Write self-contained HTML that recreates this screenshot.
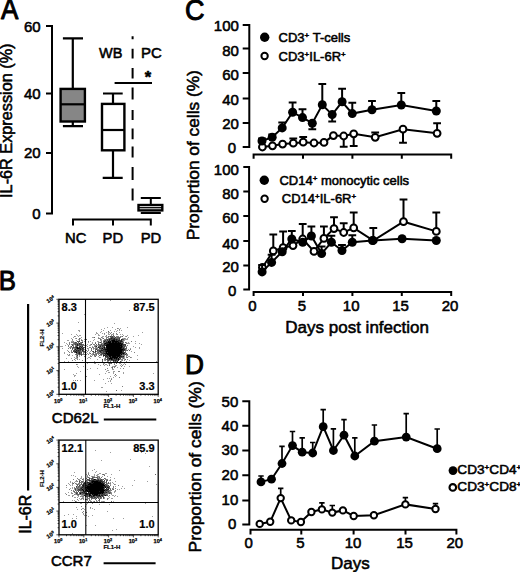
<!DOCTYPE html>
<html><head><meta charset="utf-8"><style>
html,body{margin:0;padding:0;background:#fff;width:520px;height:572px;overflow:hidden}
svg{display:block}
text{font-family:"Liberation Sans",sans-serif;fill:#000;stroke:#000;stroke-width:0.55px;stroke-linejoin:round}
path{stroke:#000;fill:none}
</style></head><body>
<svg width="520" height="572" viewBox="0 0 520 572"><defs><filter id="bl" x="-5%" y="-5%" width="110%" height="110%"><feGaussianBlur stdDeviation="0.35"/></filter></defs>
<text transform="translate(0.9,19.3) scale(1,1.11)" font-size="26" style="stroke-width:0.9px">A</text>
<path d="M46,26H52V213.5H46M46,93.5H52M46,153H52" stroke-width="2"/>
<text x="40.6" y="32.2" font-size="15" text-anchor="end">60</text>
<text x="40.6" y="99.0" font-size="15" text-anchor="end">40</text>
<text x="40.6" y="158.4" font-size="15" text-anchor="end">20</text>
<text x="40.6" y="219.1" font-size="15" text-anchor="end">0</text>
<text transform="translate(12,197.9) rotate(-90)" font-size="16.25">IL-6R Expression (%)</text>
<path d="M62.9,38.4H83M72.8,38.4V88.9M72.8,121.5V126.2M62.9,126.2H83" stroke-width="2.2"/>
<rect x="60.6" y="88.9" width="24.3" height="32.6" fill="#868686" stroke="#000" stroke-width="2.4"/>
<path d="M60.6,104.3H84.9" stroke-width="2.2"/>
<path d="M103,93.5H122.7M113,93.5V103.9M113,150.3V177.8M102.7,177.8H122.7" stroke-width="2.2"/>
<rect x="102" y="103.9" width="22.4" height="46.4" fill="#fff" stroke="#000" stroke-width="2.4"/>
<path d="M102,130H124.4" stroke-width="2.2"/>
<path d="M140.8,197.9H160.8M150.8,197.9V205M140.8,213H160.8" stroke-width="2.0"/>
<rect x="138.5" y="205" width="23.8" height="5.4" fill="#fff" stroke="#000" stroke-width="2.4"/>
<path d="M138.5,207.7H162.3" stroke-width="1.3"/>
<path d="M73,225.5V219.5H150.8V225.5M113,219.5V225.5" stroke-width="2"/>
<text x="75.8" y="243.3" font-size="14.8" text-anchor="middle">NC</text>
<text x="112.8" y="243.3" font-size="14.8" text-anchor="middle">PD</text>
<text x="151" y="243.3" font-size="14.8" text-anchor="middle">PD</text>
<path d="M132.6,36.3V39.2M132.6,48.8V58.5M132.6,68V78.6M132.6,87.5V99.5M132.6,110V120M132.6,128.5V139.3M132.6,146.5V157.5M132.6,167V180M132.6,188.5V200.5" stroke-width="2"/>
<text x="99" y="57.6" font-size="14.5">WB</text>
<text x="141.0" y="57.6" font-size="15">PC</text>
<path d="M114.6,82.9H152" stroke-width="2"/>
<text x="144.7" y="83.4" font-size="16.5" font-weight="bold">*</text>
<text transform="translate(-1.2,289.6) scale(1.01,1.07)" font-size="25.5" style="stroke-width:0.9px">B</text>
<path d="M28.1,304V490.5" stroke-width="2.2"/>
<text transform="translate(30.7,533.8) rotate(-90)" font-size="16">IL-6R</text>
<rect x="59" y="299.3" width="99.19999999999999" height="95.0" fill="none" stroke="#000" stroke-width="1.3"/>
<path d="M110,300h1v1h-1zM84,314h1v1h-1zM78,322h1v1h-1zM114,323h1v1h-1zM107,327h1v1h-1zM112,327h1v1h-1zM127,327h1v1h-1zM104,328h1v1h-1zM118,328h1v1h-1zM120,328h1v1h-1zM101,329h1v1h-1zM115,329h1v1h-1zM78,330h1v1h-1zM79,330h1v1h-1zM103,330h1v1h-1zM110,330h1v1h-1zM117,330h1v1h-1zM119,330h1v1h-1zM121,330h1v1h-1zM79,331h1v1h-1zM101,331h1v1h-1zM114,331h1v1h-1zM116,331h1v1h-1zM96,332h1v1h-1zM100,332h1v1h-1zM106,332h1v1h-1zM108,332h1v1h-1zM109,332h1v1h-1zM119,332h1v1h-1zM142,332h1v1h-1zM62,333h1v1h-1zM96,333h1v1h-1zM97,333h1v1h-1zM102,333h1v1h-1zM108,333h1v1h-1zM71,334h1v1h-1zM76,334h1v1h-1zM95,334h1v1h-1zM98,334h1v1h-1zM104,334h1v1h-1zM108,334h1v1h-1zM109,334h1v1h-1zM111,334h1v1h-1zM112,334h1v1h-1zM113,334h1v1h-1zM116,334h1v1h-1zM120,334h1v1h-1zM122,334h1v1h-1zM77,335h1v1h-1zM79,335h1v1h-1zM80,335h1v1h-1zM98,335h1v1h-1zM99,335h1v1h-1zM123,335h1v1h-1zM127,335h1v1h-1zM138,335h1v1h-1zM75,336h1v1h-1zM78,336h1v1h-1zM102,336h1v1h-1zM103,336h1v1h-1zM105,336h1v1h-1zM106,336h1v1h-1zM109,336h1v1h-1zM121,336h1v1h-1zM125,336h1v1h-1zM133,336h1v1h-1zM73,337h1v1h-1zM81,337h1v1h-1zM92,337h1v1h-1zM93,337h1v1h-1zM98,337h1v1h-1zM102,337h1v1h-1zM108,337h1v1h-1zM128,337h1v1h-1zM71,338h1v1h-1zM75,338h1v1h-1zM80,338h1v1h-1zM100,338h1v1h-1zM102,338h1v1h-1zM122,338h1v1h-1zM123,338h1v1h-1zM125,338h1v1h-1zM127,338h1v1h-1zM78,339h1v1h-1zM81,339h1v1h-1zM84,339h1v1h-1zM94,339h1v1h-1zM101,339h1v1h-1zM124,339h1v1h-1zM125,339h1v1h-1zM126,339h1v1h-1zM127,339h1v1h-1zM67,340h1v1h-1zM68,340h1v1h-1zM72,340h1v1h-1zM76,340h1v1h-1zM93,340h1v1h-1zM100,340h1v1h-1zM101,340h1v1h-1zM124,340h1v1h-1zM71,341h1v1h-1zM72,341h1v1h-1zM82,341h1v1h-1zM84,341h1v1h-1zM90,341h1v1h-1zM97,341h1v1h-1zM98,341h1v1h-1zM123,341h1v1h-1zM135,341h1v1h-1zM64,342h1v1h-1zM88,342h1v1h-1zM92,342h1v1h-1zM126,342h1v1h-1zM128,342h1v1h-1zM66,343h1v1h-1zM92,343h1v1h-1zM123,343h1v1h-1zM127,343h1v1h-1zM128,343h1v1h-1zM129,343h1v1h-1zM135,343h1v1h-1zM139,343h1v1h-1zM67,344h1v1h-1zM85,344h1v1h-1zM87,344h1v1h-1zM90,344h1v1h-1zM141,344h1v1h-1zM65,345h1v1h-1zM85,345h1v1h-1zM86,345h1v1h-1zM89,345h1v1h-1zM90,345h1v1h-1zM94,345h1v1h-1zM96,345h1v1h-1zM97,345h1v1h-1zM98,345h1v1h-1zM60,346h1v1h-1zM61,346h1v1h-1zM62,346h1v1h-1zM70,346h1v1h-1zM92,346h1v1h-1zM126,346h1v1h-1zM133,346h1v1h-1zM69,347h1v1h-1zM71,347h1v1h-1zM96,347h1v1h-1zM97,347h1v1h-1zM135,347h1v1h-1zM139,347h1v1h-1zM62,348h1v1h-1zM73,348h1v1h-1zM88,348h1v1h-1zM94,348h1v1h-1zM130,348h1v1h-1zM139,348h1v1h-1zM84,349h1v1h-1zM88,349h1v1h-1zM93,349h1v1h-1zM126,349h1v1h-1zM128,349h1v1h-1zM67,350h1v1h-1zM81,350h1v1h-1zM90,351h1v1h-1zM131,351h1v1h-1zM64,352h1v1h-1zM86,352h1v1h-1zM89,352h1v1h-1zM99,352h1v1h-1zM64,353h1v1h-1zM85,353h1v1h-1zM87,353h1v1h-1zM89,353h1v1h-1zM92,353h1v1h-1zM100,353h1v1h-1zM125,353h1v1h-1zM67,354h1v1h-1zM91,354h1v1h-1zM92,354h1v1h-1zM102,354h1v1h-1zM69,355h1v1h-1zM72,355h1v1h-1zM76,355h1v1h-1zM79,355h1v1h-1zM90,355h1v1h-1zM92,355h1v1h-1zM95,355h1v1h-1zM100,355h1v1h-1zM137,355h1v1h-1zM79,356h1v1h-1zM94,356h1v1h-1zM98,356h1v1h-1zM124,356h1v1h-1zM126,356h1v1h-1zM128,356h1v1h-1zM129,356h1v1h-1zM74,357h1v1h-1zM76,357h1v1h-1zM85,357h1v1h-1zM88,357h1v1h-1zM89,357h1v1h-1zM100,357h1v1h-1zM124,357h1v1h-1zM131,357h1v1h-1zM66,358h1v1h-1zM71,358h1v1h-1zM75,358h1v1h-1zM76,358h1v1h-1zM77,358h1v1h-1zM87,358h1v1h-1zM90,358h1v1h-1zM104,358h1v1h-1zM122,358h1v1h-1zM124,358h1v1h-1zM79,359h1v1h-1zM97,359h1v1h-1zM120,359h1v1h-1zM124,359h1v1h-1zM137,359h1v1h-1zM75,360h1v1h-1zM104,360h1v1h-1zM121,360h1v1h-1zM129,360h1v1h-1zM64,361h1v1h-1zM68,361h1v1h-1zM94,361h1v1h-1zM108,361h1v1h-1zM121,361h1v1h-1zM156,361h1v1h-1zM98,362h1v1h-1zM102,362h1v1h-1zM106,362h1v1h-1zM120,362h1v1h-1zM127,362h1v1h-1zM87,363h1v1h-1zM94,363h1v1h-1zM95,363h1v1h-1zM103,363h1v1h-1zM104,363h1v1h-1zM108,363h1v1h-1zM114,363h1v1h-1zM119,363h1v1h-1zM120,363h1v1h-1zM124,363h1v1h-1zM77,364h1v1h-1zM85,364h1v1h-1zM98,364h1v1h-1zM105,364h1v1h-1zM106,364h1v1h-1zM121,364h1v1h-1zM123,364h1v1h-1zM100,365h1v1h-1zM104,365h1v1h-1zM107,365h1v1h-1zM115,365h1v1h-1zM116,365h1v1h-1zM120,365h1v1h-1zM77,366h1v1h-1zM83,366h1v1h-1zM112,366h1v1h-1zM113,366h1v1h-1zM124,366h1v1h-1zM129,366h1v1h-1zM78,367h1v1h-1zM111,367h1v1h-1zM117,367h1v1h-1zM90,368h1v1h-1zM97,368h1v1h-1zM120,368h1v1h-1zM64,369h1v1h-1zM87,369h1v1h-1zM112,369h1v1h-1zM113,369h1v1h-1zM107,370h1v1h-1zM108,370h1v1h-1zM80,371h1v1h-1zM106,371h1v1h-1zM113,371h1v1h-1zM114,371h1v1h-1zM108,372h1v1h-1zM109,372h1v1h-1zM113,372h1v1h-1zM123,372h1v1h-1zM76,373h1v1h-1zM105,373h1v1h-1zM113,373h1v1h-1zM123,373h1v1h-1zM153,373h1v1h-1zM73,374h1v1h-1zM99,374h1v1h-1zM74,375h1v1h-1zM75,375h1v1h-1zM114,375h1v1h-1zM116,375h1v1h-1zM74,376h1v1h-1zM110,376h1v1h-1zM115,376h1v1h-1zM113,377h1v1h-1zM107,378h1v1h-1zM109,378h1v1h-1zM111,378h1v1h-1zM103,379h1v1h-1zM73,380h1v1h-1zM80,380h1v1h-1zM94,380h1v1h-1zM110,380h1v1h-1zM108,381h1v1h-1zM110,381h1v1h-1zM85,382h1v1h-1zM105,383h1v1h-1zM111,383h1v1h-1zM101,387h1v1h-1zM102,387h1v1h-1zM121,390h1v1h-1zM106,391h1v1h-1z" style="fill:#000;fill-opacity:0.38;stroke:none" filter="url(#bl)"/>
<path d="M129,310h1v1h-1zM117,328h1v1h-1zM119,329h1v1h-1zM111,332h1v1h-1zM104,333h1v1h-1zM110,333h1v1h-1zM113,333h1v1h-1zM116,333h1v1h-1zM117,334h1v1h-1zM106,335h1v1h-1zM111,335h1v1h-1zM74,336h1v1h-1zM113,336h1v1h-1zM116,336h1v1h-1zM117,336h1v1h-1zM118,336h1v1h-1zM120,336h1v1h-1zM126,336h1v1h-1zM101,337h1v1h-1zM106,337h1v1h-1zM107,337h1v1h-1zM110,337h1v1h-1zM114,337h1v1h-1zM116,337h1v1h-1zM120,337h1v1h-1zM76,338h1v1h-1zM98,338h1v1h-1zM99,338h1v1h-1zM106,338h1v1h-1zM108,338h1v1h-1zM124,338h1v1h-1zM72,339h1v1h-1zM79,339h1v1h-1zM104,339h1v1h-1zM105,339h1v1h-1zM79,340h1v1h-1zM82,340h1v1h-1zM103,340h1v1h-1zM106,340h1v1h-1zM122,340h1v1h-1zM123,340h1v1h-1zM73,341h1v1h-1zM88,341h1v1h-1zM101,341h1v1h-1zM131,341h1v1h-1zM69,342h1v1h-1zM71,342h1v1h-1zM72,342h1v1h-1zM73,342h1v1h-1zM74,342h1v1h-1zM80,342h1v1h-1zM95,342h1v1h-1zM98,342h1v1h-1zM99,342h1v1h-1zM101,342h1v1h-1zM69,343h1v1h-1zM73,343h1v1h-1zM78,343h1v1h-1zM98,343h1v1h-1zM101,343h1v1h-1zM102,343h1v1h-1zM103,343h1v1h-1zM126,343h1v1h-1zM69,344h1v1h-1zM71,344h1v1h-1zM73,344h1v1h-1zM74,344h1v1h-1zM93,344h1v1h-1zM94,344h1v1h-1zM99,344h1v1h-1zM100,344h1v1h-1zM102,344h1v1h-1zM68,345h1v1h-1zM73,345h1v1h-1zM75,345h1v1h-1zM80,345h1v1h-1zM83,345h1v1h-1zM84,345h1v1h-1zM95,345h1v1h-1zM127,345h1v1h-1zM68,346h1v1h-1zM77,346h1v1h-1zM85,346h1v1h-1zM87,346h1v1h-1zM94,346h1v1h-1zM101,346h1v1h-1zM125,346h1v1h-1zM70,347h1v1h-1zM72,347h1v1h-1zM89,347h1v1h-1zM90,347h1v1h-1zM92,347h1v1h-1zM93,347h1v1h-1zM95,347h1v1h-1zM105,347h1v1h-1zM68,348h1v1h-1zM74,348h1v1h-1zM87,348h1v1h-1zM93,348h1v1h-1zM95,348h1v1h-1zM97,348h1v1h-1zM91,349h1v1h-1zM97,349h1v1h-1zM98,349h1v1h-1zM99,349h1v1h-1zM100,349h1v1h-1zM130,349h1v1h-1zM71,350h1v1h-1zM86,350h1v1h-1zM88,350h1v1h-1zM126,350h1v1h-1zM68,351h1v1h-1zM71,351h1v1h-1zM81,351h1v1h-1zM85,351h1v1h-1zM87,351h1v1h-1zM96,351h1v1h-1zM97,351h1v1h-1zM98,351h1v1h-1zM125,351h1v1h-1zM69,352h1v1h-1zM71,352h1v1h-1zM83,352h1v1h-1zM84,352h1v1h-1zM94,352h1v1h-1zM97,352h1v1h-1zM134,352h1v1h-1zM83,353h1v1h-1zM93,353h1v1h-1zM95,353h1v1h-1zM96,353h1v1h-1zM97,353h1v1h-1zM98,353h1v1h-1zM69,354h1v1h-1zM75,354h1v1h-1zM77,354h1v1h-1zM78,354h1v1h-1zM82,354h1v1h-1zM83,354h1v1h-1zM84,354h1v1h-1zM86,354h1v1h-1zM88,354h1v1h-1zM94,354h1v1h-1zM95,354h1v1h-1zM98,354h1v1h-1zM104,354h1v1h-1zM126,354h1v1h-1zM127,354h1v1h-1zM68,355h1v1h-1zM96,355h1v1h-1zM101,355h1v1h-1zM122,355h1v1h-1zM123,355h1v1h-1zM124,355h1v1h-1zM126,355h1v1h-1zM127,355h1v1h-1zM76,356h1v1h-1zM77,356h1v1h-1zM84,356h1v1h-1zM90,356h1v1h-1zM91,356h1v1h-1zM99,357h1v1h-1zM118,357h1v1h-1zM126,357h1v1h-1zM130,357h1v1h-1zM74,359h1v1h-1zM77,359h1v1h-1zM104,359h1v1h-1zM105,359h1v1h-1zM121,359h1v1h-1zM122,359h1v1h-1zM127,359h1v1h-1zM72,360h1v1h-1zM82,360h1v1h-1zM105,360h1v1h-1zM109,360h1v1h-1zM110,360h1v1h-1zM122,360h1v1h-1zM124,360h1v1h-1zM107,361h1v1h-1zM110,361h1v1h-1zM114,361h1v1h-1zM116,361h1v1h-1zM126,361h1v1h-1zM111,362h1v1h-1zM112,362h1v1h-1zM114,362h1v1h-1zM119,362h1v1h-1zM110,363h1v1h-1zM76,364h1v1h-1zM103,364h1v1h-1zM109,364h1v1h-1zM114,364h1v1h-1zM125,364h1v1h-1zM122,365h1v1h-1zM114,366h1v1h-1zM115,366h1v1h-1zM121,366h1v1h-1zM114,367h1v1h-1zM107,368h1v1h-1zM112,368h1v1h-1zM123,368h1v1h-1zM105,369h1v1h-1zM118,371h1v1h-1zM119,371h1v1h-1zM86,376h1v1h-1zM119,377h1v1h-1zM111,379h1v1h-1zM75,380h1v1h-1zM77,380h1v1h-1zM122,386h1v1h-1z" style="fill:#000;fill-opacity:0.5;stroke:none" filter="url(#bl)"/>
<path d="M108,331h1v1h-1zM113,335h1v1h-1zM108,336h1v1h-1zM111,336h1v1h-1zM114,336h1v1h-1zM122,336h1v1h-1zM94,337h1v1h-1zM113,337h1v1h-1zM117,337h1v1h-1zM118,337h1v1h-1zM119,337h1v1h-1zM79,338h1v1h-1zM103,338h1v1h-1zM109,338h1v1h-1zM115,338h1v1h-1zM116,338h1v1h-1zM117,338h1v1h-1zM118,338h1v1h-1zM86,339h1v1h-1zM100,339h1v1h-1zM106,339h1v1h-1zM108,339h1v1h-1zM118,339h1v1h-1zM123,339h1v1h-1zM81,340h1v1h-1zM104,340h1v1h-1zM108,340h1v1h-1zM110,340h1v1h-1zM78,341h1v1h-1zM103,341h1v1h-1zM105,341h1v1h-1zM107,341h1v1h-1zM76,342h1v1h-1zM78,342h1v1h-1zM81,342h1v1h-1zM103,342h1v1h-1zM104,342h1v1h-1zM105,342h1v1h-1zM121,342h1v1h-1zM122,342h1v1h-1zM123,342h1v1h-1zM125,342h1v1h-1zM74,343h1v1h-1zM75,343h1v1h-1zM76,343h1v1h-1zM77,343h1v1h-1zM80,343h1v1h-1zM81,343h1v1h-1zM95,343h1v1h-1zM72,344h1v1h-1zM76,344h1v1h-1zM78,344h1v1h-1zM82,344h1v1h-1zM83,344h1v1h-1zM91,344h1v1h-1zM96,344h1v1h-1zM103,344h1v1h-1zM76,345h1v1h-1zM78,345h1v1h-1zM79,345h1v1h-1zM81,345h1v1h-1zM82,345h1v1h-1zM99,345h1v1h-1zM101,345h1v1h-1zM124,345h1v1h-1zM73,346h1v1h-1zM75,346h1v1h-1zM81,346h1v1h-1zM95,346h1v1h-1zM98,346h1v1h-1zM99,346h1v1h-1zM103,346h1v1h-1zM123,346h1v1h-1zM74,347h1v1h-1zM78,347h1v1h-1zM80,347h1v1h-1zM82,347h1v1h-1zM84,347h1v1h-1zM100,347h1v1h-1zM101,347h1v1h-1zM102,347h1v1h-1zM124,347h1v1h-1zM126,347h1v1h-1zM70,348h1v1h-1zM75,348h1v1h-1zM81,348h1v1h-1zM85,348h1v1h-1zM91,348h1v1h-1zM96,348h1v1h-1zM103,348h1v1h-1zM124,348h1v1h-1zM125,348h1v1h-1zM126,348h1v1h-1zM72,349h1v1h-1zM74,349h1v1h-1zM76,349h1v1h-1zM78,349h1v1h-1zM95,349h1v1h-1zM102,349h1v1h-1zM125,349h1v1h-1zM73,350h1v1h-1zM75,350h1v1h-1zM83,350h1v1h-1zM91,350h1v1h-1zM95,350h1v1h-1zM98,350h1v1h-1zM125,350h1v1h-1zM127,350h1v1h-1zM129,350h1v1h-1zM80,351h1v1h-1zM82,351h1v1h-1zM84,351h1v1h-1zM92,351h1v1h-1zM101,351h1v1h-1zM102,351h1v1h-1zM72,352h1v1h-1zM74,352h1v1h-1zM77,352h1v1h-1zM80,352h1v1h-1zM93,352h1v1h-1zM95,352h1v1h-1zM98,352h1v1h-1zM102,352h1v1h-1zM104,352h1v1h-1zM125,352h1v1h-1zM76,353h1v1h-1zM77,353h1v1h-1zM80,353h1v1h-1zM81,353h1v1h-1zM90,353h1v1h-1zM99,353h1v1h-1zM101,353h1v1h-1zM76,354h1v1h-1zM80,354h1v1h-1zM93,354h1v1h-1zM96,354h1v1h-1zM100,354h1v1h-1zM122,354h1v1h-1zM124,354h1v1h-1zM81,355h1v1h-1zM94,355h1v1h-1zM99,355h1v1h-1zM121,355h1v1h-1zM95,356h1v1h-1zM103,356h1v1h-1zM108,356h1v1h-1zM77,357h1v1h-1zM105,357h1v1h-1zM106,357h1v1h-1zM109,357h1v1h-1zM121,357h1v1h-1zM122,357h1v1h-1zM123,357h1v1h-1zM127,357h1v1h-1zM105,358h1v1h-1zM119,358h1v1h-1zM123,358h1v1h-1zM106,359h1v1h-1zM108,359h1v1h-1zM125,359h1v1h-1zM102,360h1v1h-1zM107,360h1v1h-1zM111,360h1v1h-1zM112,360h1v1h-1zM117,360h1v1h-1zM102,361h1v1h-1zM115,362h1v1h-1zM116,362h1v1h-1zM118,362h1v1h-1zM109,363h1v1h-1zM111,363h1v1h-1zM116,363h1v1h-1zM109,365h1v1h-1zM112,367h1v1h-1zM115,374h1v1h-1zM116,390h1v1h-1z" style="fill:#000;fill-opacity:0.62;stroke:none" filter="url(#bl)"/>
<path d="M110,336h1v1h-1zM112,336h1v1h-1zM111,337h1v1h-1zM112,337h1v1h-1zM115,337h1v1h-1zM110,338h1v1h-1zM112,338h1v1h-1zM113,338h1v1h-1zM119,338h1v1h-1zM107,339h1v1h-1zM110,339h1v1h-1zM111,339h1v1h-1zM112,339h1v1h-1zM115,339h1v1h-1zM117,339h1v1h-1zM119,339h1v1h-1zM122,339h1v1h-1zM105,340h1v1h-1zM107,340h1v1h-1zM115,340h1v1h-1zM117,340h1v1h-1zM120,340h1v1h-1zM77,341h1v1h-1zM79,341h1v1h-1zM106,341h1v1h-1zM111,341h1v1h-1zM119,341h1v1h-1zM122,341h1v1h-1zM75,342h1v1h-1zM82,342h1v1h-1zM100,342h1v1h-1zM111,342h1v1h-1zM75,344h1v1h-1zM79,344h1v1h-1zM80,344h1v1h-1zM81,344h1v1h-1zM98,344h1v1h-1zM101,344h1v1h-1zM105,344h1v1h-1zM123,344h1v1h-1zM124,344h1v1h-1zM125,344h1v1h-1zM72,345h1v1h-1zM100,345h1v1h-1zM102,345h1v1h-1zM103,345h1v1h-1zM104,345h1v1h-1zM122,345h1v1h-1zM123,345h1v1h-1zM125,345h1v1h-1zM71,346h1v1h-1zM76,346h1v1h-1zM79,346h1v1h-1zM102,346h1v1h-1zM104,346h1v1h-1zM124,346h1v1h-1zM73,347h1v1h-1zM75,347h1v1h-1zM83,347h1v1h-1zM99,347h1v1h-1zM103,347h1v1h-1zM122,347h1v1h-1zM123,347h1v1h-1zM72,348h1v1h-1zM76,348h1v1h-1zM83,348h1v1h-1zM99,348h1v1h-1zM100,348h1v1h-1zM101,348h1v1h-1zM105,348h1v1h-1zM122,348h1v1h-1zM77,349h1v1h-1zM79,349h1v1h-1zM81,349h1v1h-1zM82,349h1v1h-1zM83,349h1v1h-1zM96,349h1v1h-1zM101,349h1v1h-1zM74,350h1v1h-1zM77,350h1v1h-1zM79,350h1v1h-1zM80,350h1v1h-1zM97,350h1v1h-1zM99,350h1v1h-1zM100,350h1v1h-1zM103,350h1v1h-1zM104,350h1v1h-1zM124,350h1v1h-1zM73,351h1v1h-1zM74,351h1v1h-1zM76,351h1v1h-1zM77,351h1v1h-1zM78,351h1v1h-1zM79,351h1v1h-1zM83,351h1v1h-1zM93,351h1v1h-1zM99,351h1v1h-1zM103,351h1v1h-1zM104,351h1v1h-1zM122,351h1v1h-1zM123,351h1v1h-1zM75,352h1v1h-1zM78,352h1v1h-1zM81,352h1v1h-1zM100,352h1v1h-1zM101,352h1v1h-1zM103,352h1v1h-1zM105,352h1v1h-1zM107,352h1v1h-1zM123,352h1v1h-1zM124,352h1v1h-1zM78,353h1v1h-1zM102,353h1v1h-1zM103,353h1v1h-1zM124,353h1v1h-1zM126,353h1v1h-1zM79,354h1v1h-1zM81,354h1v1h-1zM101,354h1v1h-1zM103,354h1v1h-1zM106,354h1v1h-1zM120,354h1v1h-1zM123,354h1v1h-1zM125,354h1v1h-1zM77,355h1v1h-1zM105,355h1v1h-1zM107,355h1v1h-1zM106,356h1v1h-1zM111,356h1v1h-1zM122,356h1v1h-1zM107,357h1v1h-1zM108,357h1v1h-1zM120,357h1v1h-1zM107,358h1v1h-1zM108,358h1v1h-1zM113,358h1v1h-1zM117,358h1v1h-1zM120,358h1v1h-1zM102,359h1v1h-1zM107,359h1v1h-1zM110,359h1v1h-1zM113,359h1v1h-1zM114,359h1v1h-1zM115,359h1v1h-1zM117,359h1v1h-1zM119,359h1v1h-1zM108,360h1v1h-1zM114,360h1v1h-1zM116,360h1v1h-1zM113,361h1v1h-1zM115,361h1v1h-1zM120,361h1v1h-1zM117,362h1v1h-1z" style="fill:#000;fill-opacity:0.75;stroke:none" filter="url(#bl)"/>
<path d="M111,338h1v1h-1zM114,338h1v1h-1zM109,339h1v1h-1zM113,339h1v1h-1zM114,339h1v1h-1zM116,339h1v1h-1zM121,339h1v1h-1zM109,340h1v1h-1zM111,340h1v1h-1zM116,340h1v1h-1zM118,340h1v1h-1zM119,340h1v1h-1zM121,340h1v1h-1zM104,341h1v1h-1zM109,341h1v1h-1zM118,341h1v1h-1zM120,341h1v1h-1zM121,341h1v1h-1zM106,342h1v1h-1zM107,342h1v1h-1zM114,342h1v1h-1zM117,342h1v1h-1zM119,342h1v1h-1zM120,342h1v1h-1zM79,343h1v1h-1zM104,343h1v1h-1zM106,343h1v1h-1zM107,343h1v1h-1zM108,343h1v1h-1zM121,343h1v1h-1zM122,343h1v1h-1zM77,344h1v1h-1zM104,344h1v1h-1zM106,344h1v1h-1zM120,344h1v1h-1zM122,344h1v1h-1zM77,345h1v1h-1zM105,345h1v1h-1zM80,346h1v1h-1zM82,346h1v1h-1zM96,346h1v1h-1zM100,346h1v1h-1zM120,346h1v1h-1zM122,346h1v1h-1zM76,347h1v1h-1zM79,347h1v1h-1zM81,347h1v1h-1zM98,347h1v1h-1zM79,348h1v1h-1zM80,348h1v1h-1zM82,348h1v1h-1zM104,348h1v1h-1zM106,348h1v1h-1zM121,348h1v1h-1zM123,348h1v1h-1zM75,349h1v1h-1zM80,349h1v1h-1zM103,349h1v1h-1zM104,349h1v1h-1zM123,349h1v1h-1zM124,349h1v1h-1zM76,350h1v1h-1zM78,350h1v1h-1zM82,350h1v1h-1zM101,350h1v1h-1zM102,350h1v1h-1zM105,350h1v1h-1zM106,350h1v1h-1zM122,350h1v1h-1zM123,350h1v1h-1zM75,351h1v1h-1zM95,351h1v1h-1zM100,351h1v1h-1zM105,351h1v1h-1zM79,352h1v1h-1zM122,352h1v1h-1zM79,353h1v1h-1zM104,353h1v1h-1zM105,353h1v1h-1zM121,353h1v1h-1zM122,353h1v1h-1zM105,354h1v1h-1zM103,355h1v1h-1zM104,355h1v1h-1zM106,355h1v1h-1zM108,355h1v1h-1zM120,355h1v1h-1zM105,356h1v1h-1zM107,356h1v1h-1zM116,356h1v1h-1zM119,356h1v1h-1zM120,356h1v1h-1zM121,356h1v1h-1zM123,356h1v1h-1zM111,357h1v1h-1zM112,358h1v1h-1zM115,358h1v1h-1zM109,359h1v1h-1zM112,359h1v1h-1zM116,359h1v1h-1zM113,360h1v1h-1zM115,360h1v1h-1zM118,360h1v1h-1zM117,361h1v1h-1z" style="fill:#000;fill-opacity:0.88;stroke:none" filter="url(#bl)"/>
<path d="M112,340h1v1h-1zM113,340h1v1h-1zM114,340h1v1h-1zM108,341h1v1h-1zM110,341h1v1h-1zM112,341h1v1h-1zM113,341h1v1h-1zM114,341h1v1h-1zM115,341h1v1h-1zM116,341h1v1h-1zM117,341h1v1h-1zM108,342h1v1h-1zM109,342h1v1h-1zM110,342h1v1h-1zM112,342h1v1h-1zM113,342h1v1h-1zM115,342h1v1h-1zM116,342h1v1h-1zM118,342h1v1h-1zM105,343h1v1h-1zM109,343h1v1h-1zM110,343h1v1h-1zM111,343h1v1h-1zM112,343h1v1h-1zM113,343h1v1h-1zM114,343h1v1h-1zM115,343h1v1h-1zM116,343h1v1h-1zM117,343h1v1h-1zM118,343h1v1h-1zM119,343h1v1h-1zM120,343h1v1h-1zM107,344h1v1h-1zM108,344h1v1h-1zM109,344h1v1h-1zM110,344h1v1h-1zM111,344h1v1h-1zM112,344h1v1h-1zM113,344h1v1h-1zM114,344h1v1h-1zM115,344h1v1h-1zM116,344h1v1h-1zM117,344h1v1h-1zM118,344h1v1h-1zM119,344h1v1h-1zM121,344h1v1h-1zM106,345h1v1h-1zM107,345h1v1h-1zM108,345h1v1h-1zM109,345h1v1h-1zM110,345h1v1h-1zM111,345h1v1h-1zM112,345h1v1h-1zM113,345h1v1h-1zM114,345h1v1h-1zM115,345h1v1h-1zM116,345h1v1h-1zM117,345h1v1h-1zM118,345h1v1h-1zM119,345h1v1h-1zM120,345h1v1h-1zM121,345h1v1h-1zM106,346h1v1h-1zM107,346h1v1h-1zM108,346h1v1h-1zM109,346h1v1h-1zM110,346h1v1h-1zM111,346h1v1h-1zM112,346h1v1h-1zM113,346h1v1h-1zM114,346h1v1h-1zM115,346h1v1h-1zM116,346h1v1h-1zM117,346h1v1h-1zM118,346h1v1h-1zM119,346h1v1h-1zM121,346h1v1h-1zM77,347h1v1h-1zM104,347h1v1h-1zM106,347h1v1h-1zM107,347h1v1h-1zM108,347h1v1h-1zM109,347h1v1h-1zM110,347h1v1h-1zM111,347h1v1h-1zM112,347h1v1h-1zM113,347h1v1h-1zM114,347h1v1h-1zM115,347h1v1h-1zM116,347h1v1h-1zM117,347h1v1h-1zM118,347h1v1h-1zM119,347h1v1h-1zM120,347h1v1h-1zM121,347h1v1h-1zM77,348h1v1h-1zM78,348h1v1h-1zM102,348h1v1h-1zM107,348h1v1h-1zM108,348h1v1h-1zM109,348h1v1h-1zM110,348h1v1h-1zM111,348h1v1h-1zM112,348h1v1h-1zM113,348h1v1h-1zM114,348h1v1h-1zM115,348h1v1h-1zM116,348h1v1h-1zM117,348h1v1h-1zM118,348h1v1h-1zM119,348h1v1h-1zM120,348h1v1h-1zM105,349h1v1h-1zM106,349h1v1h-1zM107,349h1v1h-1zM108,349h1v1h-1zM109,349h1v1h-1zM110,349h1v1h-1zM111,349h1v1h-1zM112,349h1v1h-1zM113,349h1v1h-1zM114,349h1v1h-1zM115,349h1v1h-1zM116,349h1v1h-1zM117,349h1v1h-1zM118,349h1v1h-1zM119,349h1v1h-1zM120,349h1v1h-1zM121,349h1v1h-1zM122,349h1v1h-1zM107,350h1v1h-1zM108,350h1v1h-1zM109,350h1v1h-1zM110,350h1v1h-1zM111,350h1v1h-1zM112,350h1v1h-1zM113,350h1v1h-1zM114,350h1v1h-1zM115,350h1v1h-1zM116,350h1v1h-1zM117,350h1v1h-1zM118,350h1v1h-1zM119,350h1v1h-1zM120,350h1v1h-1zM121,350h1v1h-1zM106,351h1v1h-1zM107,351h1v1h-1zM108,351h1v1h-1zM109,351h1v1h-1zM110,351h1v1h-1zM111,351h1v1h-1zM112,351h1v1h-1zM113,351h1v1h-1zM114,351h1v1h-1zM115,351h1v1h-1zM116,351h1v1h-1zM117,351h1v1h-1zM118,351h1v1h-1zM119,351h1v1h-1zM120,351h1v1h-1zM121,351h1v1h-1zM76,352h1v1h-1zM106,352h1v1h-1zM108,352h1v1h-1zM109,352h1v1h-1zM110,352h1v1h-1zM111,352h1v1h-1zM112,352h1v1h-1zM113,352h1v1h-1zM114,352h1v1h-1zM115,352h1v1h-1zM116,352h1v1h-1zM117,352h1v1h-1zM118,352h1v1h-1zM119,352h1v1h-1zM120,352h1v1h-1zM121,352h1v1h-1zM106,353h1v1h-1zM107,353h1v1h-1zM108,353h1v1h-1zM109,353h1v1h-1zM110,353h1v1h-1zM111,353h1v1h-1zM112,353h1v1h-1zM113,353h1v1h-1zM114,353h1v1h-1zM115,353h1v1h-1zM116,353h1v1h-1zM117,353h1v1h-1zM118,353h1v1h-1zM119,353h1v1h-1zM120,353h1v1h-1zM123,353h1v1h-1zM107,354h1v1h-1zM108,354h1v1h-1zM109,354h1v1h-1zM110,354h1v1h-1zM111,354h1v1h-1zM112,354h1v1h-1zM113,354h1v1h-1zM114,354h1v1h-1zM115,354h1v1h-1zM116,354h1v1h-1zM117,354h1v1h-1zM118,354h1v1h-1zM119,354h1v1h-1zM121,354h1v1h-1zM109,355h1v1h-1zM110,355h1v1h-1zM111,355h1v1h-1zM112,355h1v1h-1zM113,355h1v1h-1zM114,355h1v1h-1zM115,355h1v1h-1zM116,355h1v1h-1zM117,355h1v1h-1zM118,355h1v1h-1zM119,355h1v1h-1zM109,356h1v1h-1zM110,356h1v1h-1zM112,356h1v1h-1zM113,356h1v1h-1zM114,356h1v1h-1zM115,356h1v1h-1zM117,356h1v1h-1zM118,356h1v1h-1zM110,357h1v1h-1zM112,357h1v1h-1zM113,357h1v1h-1zM114,357h1v1h-1zM115,357h1v1h-1zM116,357h1v1h-1zM117,357h1v1h-1zM119,357h1v1h-1zM109,358h1v1h-1zM110,358h1v1h-1zM111,358h1v1h-1zM114,358h1v1h-1zM116,358h1v1h-1zM118,358h1v1h-1zM111,359h1v1h-1zM118,359h1v1h-1z" style="fill:#000;fill-opacity:1.0;stroke:none" filter="url(#bl)"/>
<path d="M85.5,299.3V394.3M59,362.5H158.2" stroke-width="1.1"/>
<path d="M56.4,394.3H59M59.0,394.3V396.9M57.6,387.2H59M66.5,394.3V395.7M57.6,383.0H59M70.8,394.3V395.7M57.6,380.0H59M73.9,394.3V395.7M57.6,377.7H59M76.3,394.3V395.7M57.6,375.8H59M78.3,394.3V395.7M57.6,374.2H59M80.0,394.3V395.7M57.6,372.9H59M81.4,394.3V395.7M57.6,371.6H59M82.7,394.3V395.7M56.4,370.6H59M83.8,394.3V396.9M57.6,363.4H59M91.3,394.3V395.7M57.6,359.2H59M95.6,394.3V395.7M57.6,356.3H59M98.7,394.3V395.7M57.6,353.9H59M101.1,394.3V395.7M57.6,352.1H59M103.1,394.3V395.7M57.6,350.5H59M104.8,394.3V395.7M57.6,349.1H59M106.2,394.3V395.7M57.6,347.9H59M107.5,394.3V395.7M56.4,346.8H59M108.6,394.3V396.9M57.6,339.7H59M116.1,394.3V395.7M57.6,335.5H59M120.4,394.3V395.7M57.6,332.5H59M123.5,394.3V395.7M57.6,330.2H59M125.9,394.3V395.7M57.6,328.3H59M127.9,394.3V395.7M57.6,326.7H59M129.6,394.3V395.7M57.6,325.4H59M131.0,394.3V395.7M57.6,324.1H59M132.3,394.3V395.7M56.4,323.1H59M133.4,394.3V396.9M57.6,315.9H59M140.9,394.3V395.7M57.6,311.7H59M145.2,394.3V395.7M57.6,308.8H59M148.3,394.3V395.7M57.6,306.4H59M150.7,394.3V395.7M57.6,304.6H59M152.7,394.3V395.7M57.6,303.0H59M154.4,394.3V395.7M57.6,301.6H59M155.8,394.3V395.7M57.6,300.4H59M157.1,394.3V395.7M56.4,299.3H59M158.2,394.3V396.90000000000003" stroke-width="0.7"/>
<text transform="translate(50.6,299.5) rotate(-32)" x="0" y="1.8" font-size="5.6" text-anchor="middle" font-weight="bold" style="stroke-width:0.25px">10<tspan font-size="3.8" dy="-2">4</tspan></text>
<text transform="translate(50.6,323.2) rotate(-32)" x="0" y="1.8" font-size="5.6" text-anchor="middle" font-weight="bold" style="stroke-width:0.25px">10<tspan font-size="3.8" dy="-2">3</tspan></text>
<text transform="translate(50.6,347.0) rotate(-32)" x="0" y="1.8" font-size="5.6" text-anchor="middle" font-weight="bold" style="stroke-width:0.25px">10<tspan font-size="3.8" dy="-2">2</tspan></text>
<text transform="translate(50.6,370.8) rotate(-32)" x="0" y="1.8" font-size="5.6" text-anchor="middle" font-weight="bold" style="stroke-width:0.25px">10<tspan font-size="3.8" dy="-2">1</tspan></text>
<text transform="translate(50.6,394.5) rotate(-32)" x="0" y="1.8" font-size="5.6" text-anchor="middle" font-weight="bold" style="stroke-width:0.25px">10<tspan font-size="3.8" dy="-2">0</tspan></text>
<text x="58.2" y="402.6" font-size="5.6" text-anchor="middle" font-weight="bold" style="stroke-width:0.25px">10<tspan font-size="3.8" dy="-2">0</tspan></text>
<text x="83.1" y="402.6" font-size="5.6" text-anchor="middle" font-weight="bold" style="stroke-width:0.25px">10<tspan font-size="3.8" dy="-2">1</tspan></text>
<text x="108.0" y="402.6" font-size="5.6" text-anchor="middle" font-weight="bold" style="stroke-width:0.25px">10<tspan font-size="3.8" dy="-2">2</tspan></text>
<text x="132.9" y="402.6" font-size="5.6" text-anchor="middle" font-weight="bold" style="stroke-width:0.25px">10<tspan font-size="3.8" dy="-2">3</tspan></text>
<text x="157.8" y="402.6" font-size="5.6" text-anchor="middle" font-weight="bold" style="stroke-width:0.25px">10<tspan font-size="3.8" dy="-2">4</tspan></text>
<text x="111.9" y="408.1" font-size="6" text-anchor="middle" font-weight="bold" style="stroke-width:0.2px">FL1-H</text>
<text transform="translate(44,338.0) rotate(-90) scale(1,0.85)" font-size="6" text-anchor="middle" font-weight="bold" style="stroke-width:0.2px">FL2-H</text>
<text x="61.6" y="310.90000000000003" font-size="11" font-weight="bold" style="stroke-width:0.2px">8.3</text>
<text x="154.6" y="310.90000000000003" font-size="11" text-anchor="end" font-weight="bold" style="stroke-width:0.2px">87.5</text>
<text x="61.6" y="390.1" font-size="11" font-weight="bold" style="stroke-width:0.2px">1.0</text>
<text x="154.6" y="390.1" font-size="11" text-anchor="end" font-weight="bold" style="stroke-width:0.2px">3.3</text>
<rect x="59" y="440.1" width="99.19999999999999" height="94.69999999999993" fill="none" stroke="#000" stroke-width="1.3"/>
<path d="M95,450h1v1h-1zM110,452h1v1h-1zM141,452h1v1h-1zM145,453h1v1h-1zM130,459h1v1h-1zM101,460h1v1h-1zM149,466h1v1h-1zM94,469h1v1h-1zM92,470h1v1h-1zM119,470h1v1h-1zM96,471h1v1h-1zM74,472h1v1h-1zM88,472h1v1h-1zM95,472h1v1h-1zM99,473h1v1h-1zM100,473h1v1h-1zM105,473h1v1h-1zM106,473h1v1h-1zM86,474h1v1h-1zM94,474h1v1h-1zM97,474h1v1h-1zM98,474h1v1h-1zM104,474h1v1h-1zM111,474h1v1h-1zM71,475h1v1h-1zM73,475h1v1h-1zM87,475h1v1h-1zM94,475h1v1h-1zM96,475h1v1h-1zM97,475h1v1h-1zM75,476h1v1h-1zM81,476h1v1h-1zM91,476h1v1h-1zM93,476h1v1h-1zM94,476h1v1h-1zM99,476h1v1h-1zM102,476h1v1h-1zM107,476h1v1h-1zM81,477h1v1h-1zM87,477h1v1h-1zM89,477h1v1h-1zM98,477h1v1h-1zM110,477h1v1h-1zM80,478h1v1h-1zM81,478h1v1h-1zM83,478h1v1h-1zM93,478h1v1h-1zM114,478h1v1h-1zM79,479h1v1h-1zM110,479h1v1h-1zM83,480h1v1h-1zM109,480h1v1h-1zM134,480h1v1h-1zM70,481h1v1h-1zM75,481h1v1h-1zM76,481h1v1h-1zM86,481h1v1h-1zM115,481h1v1h-1zM147,481h1v1h-1zM70,482h1v1h-1zM72,482h1v1h-1zM74,482h1v1h-1zM83,482h1v1h-1zM110,482h1v1h-1zM112,482h1v1h-1zM68,483h1v1h-1zM76,483h1v1h-1zM109,483h1v1h-1zM113,483h1v1h-1zM69,484h1v1h-1zM72,484h1v1h-1zM79,484h1v1h-1zM110,484h1v1h-1zM115,484h1v1h-1zM156,484h1v1h-1zM70,485h1v1h-1zM72,485h1v1h-1zM132,485h1v1h-1zM77,486h1v1h-1zM80,486h1v1h-1zM115,486h1v1h-1zM122,486h1v1h-1zM66,487h1v1h-1zM72,487h1v1h-1zM70,488h1v1h-1zM72,488h1v1h-1zM76,488h1v1h-1zM113,488h1v1h-1zM121,488h1v1h-1zM124,488h1v1h-1zM74,489h1v1h-1zM76,489h1v1h-1zM117,489h1v1h-1zM119,489h1v1h-1zM76,490h1v1h-1zM110,491h1v1h-1zM114,491h1v1h-1zM115,491h1v1h-1zM68,492h1v1h-1zM71,492h1v1h-1zM111,492h1v1h-1zM114,492h1v1h-1zM65,493h1v1h-1zM71,493h1v1h-1zM75,493h1v1h-1zM75,494h1v1h-1zM111,494h1v1h-1zM68,495h1v1h-1zM69,495h1v1h-1zM72,495h1v1h-1zM73,495h1v1h-1zM77,495h1v1h-1zM81,495h1v1h-1zM82,495h1v1h-1zM112,495h1v1h-1zM113,495h1v1h-1zM115,495h1v1h-1zM78,496h1v1h-1zM81,496h1v1h-1zM108,496h1v1h-1zM114,496h1v1h-1zM117,496h1v1h-1zM74,497h1v1h-1zM75,497h1v1h-1zM77,497h1v1h-1zM82,497h1v1h-1zM83,497h1v1h-1zM99,497h1v1h-1zM104,497h1v1h-1zM109,497h1v1h-1zM79,498h1v1h-1zM99,498h1v1h-1zM104,498h1v1h-1zM108,498h1v1h-1zM111,498h1v1h-1zM112,498h1v1h-1zM80,499h1v1h-1zM81,499h1v1h-1zM72,500h1v1h-1zM74,500h1v1h-1zM78,500h1v1h-1zM87,500h1v1h-1zM90,500h1v1h-1zM63,501h1v1h-1zM76,501h1v1h-1zM93,501h1v1h-1zM96,501h1v1h-1zM97,501h1v1h-1zM101,501h1v1h-1zM102,501h1v1h-1zM104,501h1v1h-1zM113,501h1v1h-1zM68,502h1v1h-1zM91,502h1v1h-1zM102,502h1v1h-1zM80,503h1v1h-1zM81,503h1v1h-1zM87,503h1v1h-1zM145,503h1v1h-1zM86,504h1v1h-1zM99,504h1v1h-1zM109,504h1v1h-1zM76,507h1v1h-1zM82,508h1v1h-1zM83,508h1v1h-1zM90,508h1v1h-1zM92,508h1v1h-1zM77,509h1v1h-1zM84,509h1v1h-1zM94,509h1v1h-1zM107,511h1v1h-1zM83,513h1v1h-1zM68,514h1v1h-1zM73,514h1v1h-1zM83,514h1v1h-1zM64,515h1v1h-1zM84,515h1v1h-1zM92,515h1v1h-1zM76,516h1v1h-1zM88,516h1v1h-1zM152,516h1v1h-1zM72,518h1v1h-1zM76,518h1v1h-1zM113,518h1v1h-1zM123,518h1v1h-1zM86,525h1v1h-1zM95,525h1v1h-1zM116,529h1v1h-1zM112,530h1v1h-1zM72,533h1v1h-1z" style="fill:#000;fill-opacity:0.38;stroke:none" filter="url(#bl)"/>
<path d="M88,473h1v1h-1zM88,474h1v1h-1zM102,474h1v1h-1zM89,475h1v1h-1zM87,476h1v1h-1zM92,476h1v1h-1zM97,476h1v1h-1zM98,476h1v1h-1zM95,477h1v1h-1zM101,477h1v1h-1zM77,478h1v1h-1zM86,478h1v1h-1zM90,478h1v1h-1zM98,478h1v1h-1zM99,478h1v1h-1zM100,478h1v1h-1zM105,478h1v1h-1zM73,479h1v1h-1zM78,479h1v1h-1zM83,479h1v1h-1zM96,479h1v1h-1zM99,479h1v1h-1zM102,479h1v1h-1zM105,479h1v1h-1zM106,479h1v1h-1zM107,479h1v1h-1zM76,480h1v1h-1zM79,480h1v1h-1zM80,480h1v1h-1zM86,480h1v1h-1zM87,480h1v1h-1zM110,480h1v1h-1zM77,481h1v1h-1zM83,481h1v1h-1zM87,481h1v1h-1zM89,481h1v1h-1zM80,482h1v1h-1zM81,482h1v1h-1zM82,482h1v1h-1zM86,482h1v1h-1zM105,482h1v1h-1zM72,483h1v1h-1zM75,483h1v1h-1zM78,483h1v1h-1zM79,483h1v1h-1zM107,483h1v1h-1zM110,483h1v1h-1zM76,484h1v1h-1zM78,484h1v1h-1zM80,484h1v1h-1zM82,484h1v1h-1zM107,484h1v1h-1zM114,484h1v1h-1zM66,485h1v1h-1zM80,485h1v1h-1zM110,485h1v1h-1zM118,485h1v1h-1zM81,486h1v1h-1zM113,486h1v1h-1zM74,487h1v1h-1zM77,487h1v1h-1zM79,487h1v1h-1zM113,487h1v1h-1zM74,488h1v1h-1zM78,488h1v1h-1zM79,488h1v1h-1zM107,488h1v1h-1zM110,488h1v1h-1zM112,488h1v1h-1zM115,488h1v1h-1zM69,489h1v1h-1zM77,489h1v1h-1zM112,489h1v1h-1zM71,490h1v1h-1zM73,490h1v1h-1zM110,490h1v1h-1zM111,490h1v1h-1zM115,490h1v1h-1zM73,491h1v1h-1zM76,491h1v1h-1zM80,491h1v1h-1zM81,491h1v1h-1zM82,491h1v1h-1zM109,491h1v1h-1zM74,492h1v1h-1zM75,492h1v1h-1zM72,493h1v1h-1zM106,493h1v1h-1zM107,493h1v1h-1zM108,493h1v1h-1zM110,493h1v1h-1zM111,493h1v1h-1zM66,494h1v1h-1zM74,494h1v1h-1zM76,494h1v1h-1zM79,494h1v1h-1zM81,494h1v1h-1zM83,494h1v1h-1zM84,494h1v1h-1zM85,494h1v1h-1zM91,494h1v1h-1zM105,494h1v1h-1zM107,494h1v1h-1zM78,495h1v1h-1zM83,495h1v1h-1zM109,495h1v1h-1zM72,496h1v1h-1zM80,496h1v1h-1zM82,496h1v1h-1zM83,496h1v1h-1zM95,496h1v1h-1zM101,496h1v1h-1zM89,497h1v1h-1zM93,497h1v1h-1zM96,497h1v1h-1zM81,498h1v1h-1zM82,498h1v1h-1zM83,498h1v1h-1zM87,498h1v1h-1zM88,498h1v1h-1zM89,498h1v1h-1zM95,498h1v1h-1zM101,498h1v1h-1zM107,498h1v1h-1zM77,499h1v1h-1zM83,499h1v1h-1zM89,499h1v1h-1zM91,499h1v1h-1zM107,499h1v1h-1zM89,500h1v1h-1zM96,500h1v1h-1zM98,500h1v1h-1zM90,501h1v1h-1zM91,501h1v1h-1zM99,501h1v1h-1zM103,501h1v1h-1zM92,503h1v1h-1zM81,506h1v1h-1zM85,506h1v1h-1zM90,507h1v1h-1zM81,509h1v1h-1zM83,511h1v1h-1zM82,512h1v1h-1zM86,515h1v1h-1z" style="fill:#000;fill-opacity:0.5;stroke:none" filter="url(#bl)"/>
<path d="M103,474h1v1h-1zM155,474h1v1h-1zM104,475h1v1h-1zM88,477h1v1h-1zM92,477h1v1h-1zM93,477h1v1h-1zM94,477h1v1h-1zM96,477h1v1h-1zM97,477h1v1h-1zM99,477h1v1h-1zM91,478h1v1h-1zM97,478h1v1h-1zM104,478h1v1h-1zM82,479h1v1h-1zM88,479h1v1h-1zM89,479h1v1h-1zM91,479h1v1h-1zM92,479h1v1h-1zM97,479h1v1h-1zM100,479h1v1h-1zM103,479h1v1h-1zM88,480h1v1h-1zM102,480h1v1h-1zM106,480h1v1h-1zM107,480h1v1h-1zM81,481h1v1h-1zM82,481h1v1h-1zM90,481h1v1h-1zM104,481h1v1h-1zM79,482h1v1h-1zM103,482h1v1h-1zM104,482h1v1h-1zM106,482h1v1h-1zM108,482h1v1h-1zM73,483h1v1h-1zM81,483h1v1h-1zM86,483h1v1h-1zM106,483h1v1h-1zM108,483h1v1h-1zM77,484h1v1h-1zM81,484h1v1h-1zM86,484h1v1h-1zM104,484h1v1h-1zM106,484h1v1h-1zM77,485h1v1h-1zM105,485h1v1h-1zM107,485h1v1h-1zM78,486h1v1h-1zM79,486h1v1h-1zM108,486h1v1h-1zM76,487h1v1h-1zM78,487h1v1h-1zM80,487h1v1h-1zM106,487h1v1h-1zM109,487h1v1h-1zM75,488h1v1h-1zM77,488h1v1h-1zM82,488h1v1h-1zM109,488h1v1h-1zM85,489h1v1h-1zM104,489h1v1h-1zM110,489h1v1h-1zM113,489h1v1h-1zM75,490h1v1h-1zM77,490h1v1h-1zM78,490h1v1h-1zM84,490h1v1h-1zM108,490h1v1h-1zM109,490h1v1h-1zM74,491h1v1h-1zM104,491h1v1h-1zM106,491h1v1h-1zM107,491h1v1h-1zM76,492h1v1h-1zM77,492h1v1h-1zM79,492h1v1h-1zM86,492h1v1h-1zM107,492h1v1h-1zM108,492h1v1h-1zM109,492h1v1h-1zM110,492h1v1h-1zM77,493h1v1h-1zM79,493h1v1h-1zM81,493h1v1h-1zM82,493h1v1h-1zM105,493h1v1h-1zM77,494h1v1h-1zM78,494h1v1h-1zM80,494h1v1h-1zM82,494h1v1h-1zM100,494h1v1h-1zM106,494h1v1h-1zM85,495h1v1h-1zM86,495h1v1h-1zM88,495h1v1h-1zM92,495h1v1h-1zM100,495h1v1h-1zM103,495h1v1h-1zM106,495h1v1h-1zM107,495h1v1h-1zM86,496h1v1h-1zM88,496h1v1h-1zM90,496h1v1h-1zM96,496h1v1h-1zM103,496h1v1h-1zM87,497h1v1h-1zM90,497h1v1h-1zM98,497h1v1h-1zM100,497h1v1h-1zM101,497h1v1h-1zM91,498h1v1h-1zM92,498h1v1h-1zM93,498h1v1h-1zM94,498h1v1h-1zM98,498h1v1h-1zM100,498h1v1h-1zM103,498h1v1h-1zM86,499h1v1h-1zM87,499h1v1h-1zM95,499h1v1h-1zM99,500h1v1h-1zM75,501h1v1h-1zM88,501h1v1h-1zM94,501h1v1h-1zM111,501h1v1h-1zM89,502h1v1h-1zM86,512h1v1h-1z" style="fill:#000;fill-opacity:0.62;stroke:none" filter="url(#bl)"/>
<path d="M89,478h1v1h-1zM92,478h1v1h-1zM87,479h1v1h-1zM93,479h1v1h-1zM98,479h1v1h-1zM101,479h1v1h-1zM90,480h1v1h-1zM91,480h1v1h-1zM94,480h1v1h-1zM95,480h1v1h-1zM99,480h1v1h-1zM101,480h1v1h-1zM104,480h1v1h-1zM79,481h1v1h-1zM102,481h1v1h-1zM103,481h1v1h-1zM106,481h1v1h-1zM84,482h1v1h-1zM85,482h1v1h-1zM89,482h1v1h-1zM90,482h1v1h-1zM101,482h1v1h-1zM83,483h1v1h-1zM87,483h1v1h-1zM88,483h1v1h-1zM104,483h1v1h-1zM84,484h1v1h-1zM85,484h1v1h-1zM87,484h1v1h-1zM105,484h1v1h-1zM79,485h1v1h-1zM84,485h1v1h-1zM106,485h1v1h-1zM108,485h1v1h-1zM76,486h1v1h-1zM82,486h1v1h-1zM84,486h1v1h-1zM85,486h1v1h-1zM86,486h1v1h-1zM106,486h1v1h-1zM107,486h1v1h-1zM109,486h1v1h-1zM81,487h1v1h-1zM83,487h1v1h-1zM84,487h1v1h-1zM104,487h1v1h-1zM80,488h1v1h-1zM83,488h1v1h-1zM84,488h1v1h-1zM104,488h1v1h-1zM108,488h1v1h-1zM75,489h1v1h-1zM78,489h1v1h-1zM79,489h1v1h-1zM80,489h1v1h-1zM81,489h1v1h-1zM83,489h1v1h-1zM84,489h1v1h-1zM106,489h1v1h-1zM79,490h1v1h-1zM80,490h1v1h-1zM81,490h1v1h-1zM82,490h1v1h-1zM105,490h1v1h-1zM107,490h1v1h-1zM78,491h1v1h-1zM85,491h1v1h-1zM86,491h1v1h-1zM105,491h1v1h-1zM108,491h1v1h-1zM80,492h1v1h-1zM81,492h1v1h-1zM83,492h1v1h-1zM89,492h1v1h-1zM104,492h1v1h-1zM105,492h1v1h-1zM76,493h1v1h-1zM83,493h1v1h-1zM84,493h1v1h-1zM103,493h1v1h-1zM104,493h1v1h-1zM109,493h1v1h-1zM88,494h1v1h-1zM98,494h1v1h-1zM101,494h1v1h-1zM102,494h1v1h-1zM103,494h1v1h-1zM104,494h1v1h-1zM87,495h1v1h-1zM91,495h1v1h-1zM104,495h1v1h-1zM87,496h1v1h-1zM92,496h1v1h-1zM94,496h1v1h-1zM97,496h1v1h-1zM98,496h1v1h-1zM99,496h1v1h-1zM102,496h1v1h-1zM91,497h1v1h-1zM92,497h1v1h-1zM94,497h1v1h-1zM95,497h1v1h-1zM97,497h1v1h-1zM103,497h1v1h-1zM96,498h1v1h-1zM85,499h1v1h-1zM99,499h1v1h-1z" style="fill:#000;fill-opacity:0.75;stroke:none" filter="url(#bl)"/>
<path d="M95,479h1v1h-1zM89,480h1v1h-1zM92,480h1v1h-1zM93,480h1v1h-1zM96,480h1v1h-1zM97,480h1v1h-1zM98,480h1v1h-1zM100,480h1v1h-1zM85,481h1v1h-1zM91,481h1v1h-1zM98,481h1v1h-1zM99,481h1v1h-1zM100,481h1v1h-1zM101,481h1v1h-1zM87,482h1v1h-1zM88,482h1v1h-1zM91,482h1v1h-1zM93,482h1v1h-1zM102,482h1v1h-1zM84,483h1v1h-1zM85,483h1v1h-1zM91,483h1v1h-1zM92,483h1v1h-1zM102,483h1v1h-1zM103,483h1v1h-1zM83,484h1v1h-1zM82,485h1v1h-1zM83,485h1v1h-1zM85,485h1v1h-1zM86,485h1v1h-1zM87,485h1v1h-1zM88,485h1v1h-1zM89,485h1v1h-1zM83,486h1v1h-1zM103,486h1v1h-1zM104,486h1v1h-1zM105,486h1v1h-1zM82,487h1v1h-1zM107,487h1v1h-1zM108,487h1v1h-1zM81,488h1v1h-1zM85,488h1v1h-1zM86,488h1v1h-1zM103,488h1v1h-1zM106,488h1v1h-1zM87,489h1v1h-1zM105,489h1v1h-1zM107,489h1v1h-1zM108,489h1v1h-1zM85,490h1v1h-1zM88,490h1v1h-1zM106,490h1v1h-1zM83,491h1v1h-1zM84,491h1v1h-1zM99,491h1v1h-1zM82,492h1v1h-1zM84,492h1v1h-1zM88,492h1v1h-1zM106,492h1v1h-1zM85,493h1v1h-1zM87,493h1v1h-1zM88,493h1v1h-1zM89,493h1v1h-1zM101,493h1v1h-1zM86,494h1v1h-1zM87,494h1v1h-1zM90,494h1v1h-1zM93,494h1v1h-1zM99,494h1v1h-1zM84,495h1v1h-1zM95,495h1v1h-1zM97,495h1v1h-1zM98,495h1v1h-1zM101,495h1v1h-1zM102,495h1v1h-1zM85,496h1v1h-1zM89,496h1v1h-1zM91,496h1v1h-1zM93,496h1v1h-1zM100,496h1v1h-1z" style="fill:#000;fill-opacity:0.88;stroke:none" filter="url(#bl)"/>
<path d="M94,479h1v1h-1zM92,481h1v1h-1zM93,481h1v1h-1zM94,481h1v1h-1zM95,481h1v1h-1zM96,481h1v1h-1zM97,481h1v1h-1zM92,482h1v1h-1zM94,482h1v1h-1zM95,482h1v1h-1zM96,482h1v1h-1zM97,482h1v1h-1zM98,482h1v1h-1zM99,482h1v1h-1zM100,482h1v1h-1zM89,483h1v1h-1zM90,483h1v1h-1zM93,483h1v1h-1zM94,483h1v1h-1zM95,483h1v1h-1zM96,483h1v1h-1zM97,483h1v1h-1zM98,483h1v1h-1zM99,483h1v1h-1zM100,483h1v1h-1zM101,483h1v1h-1zM88,484h1v1h-1zM89,484h1v1h-1zM90,484h1v1h-1zM91,484h1v1h-1zM92,484h1v1h-1zM93,484h1v1h-1zM94,484h1v1h-1zM95,484h1v1h-1zM96,484h1v1h-1zM97,484h1v1h-1zM98,484h1v1h-1zM99,484h1v1h-1zM100,484h1v1h-1zM101,484h1v1h-1zM102,484h1v1h-1zM103,484h1v1h-1zM90,485h1v1h-1zM91,485h1v1h-1zM92,485h1v1h-1zM93,485h1v1h-1zM94,485h1v1h-1zM95,485h1v1h-1zM96,485h1v1h-1zM97,485h1v1h-1zM98,485h1v1h-1zM99,485h1v1h-1zM100,485h1v1h-1zM101,485h1v1h-1zM102,485h1v1h-1zM103,485h1v1h-1zM104,485h1v1h-1zM87,486h1v1h-1zM88,486h1v1h-1zM89,486h1v1h-1zM90,486h1v1h-1zM91,486h1v1h-1zM92,486h1v1h-1zM93,486h1v1h-1zM94,486h1v1h-1zM95,486h1v1h-1zM96,486h1v1h-1zM97,486h1v1h-1zM98,486h1v1h-1zM99,486h1v1h-1zM100,486h1v1h-1zM101,486h1v1h-1zM102,486h1v1h-1zM85,487h1v1h-1zM86,487h1v1h-1zM87,487h1v1h-1zM88,487h1v1h-1zM89,487h1v1h-1zM90,487h1v1h-1zM91,487h1v1h-1zM92,487h1v1h-1zM93,487h1v1h-1zM94,487h1v1h-1zM95,487h1v1h-1zM96,487h1v1h-1zM97,487h1v1h-1zM98,487h1v1h-1zM99,487h1v1h-1zM100,487h1v1h-1zM101,487h1v1h-1zM102,487h1v1h-1zM103,487h1v1h-1zM105,487h1v1h-1zM87,488h1v1h-1zM88,488h1v1h-1zM89,488h1v1h-1zM90,488h1v1h-1zM91,488h1v1h-1zM92,488h1v1h-1zM93,488h1v1h-1zM94,488h1v1h-1zM95,488h1v1h-1zM96,488h1v1h-1zM97,488h1v1h-1zM98,488h1v1h-1zM99,488h1v1h-1zM100,488h1v1h-1zM101,488h1v1h-1zM102,488h1v1h-1zM82,489h1v1h-1zM86,489h1v1h-1zM88,489h1v1h-1zM89,489h1v1h-1zM90,489h1v1h-1zM91,489h1v1h-1zM92,489h1v1h-1zM93,489h1v1h-1zM94,489h1v1h-1zM95,489h1v1h-1zM96,489h1v1h-1zM97,489h1v1h-1zM98,489h1v1h-1zM99,489h1v1h-1zM100,489h1v1h-1zM101,489h1v1h-1zM102,489h1v1h-1zM103,489h1v1h-1zM83,490h1v1h-1zM86,490h1v1h-1zM87,490h1v1h-1zM89,490h1v1h-1zM90,490h1v1h-1zM91,490h1v1h-1zM92,490h1v1h-1zM93,490h1v1h-1zM94,490h1v1h-1zM95,490h1v1h-1zM96,490h1v1h-1zM97,490h1v1h-1zM98,490h1v1h-1zM99,490h1v1h-1zM100,490h1v1h-1zM101,490h1v1h-1zM102,490h1v1h-1zM103,490h1v1h-1zM104,490h1v1h-1zM87,491h1v1h-1zM88,491h1v1h-1zM89,491h1v1h-1zM90,491h1v1h-1zM91,491h1v1h-1zM92,491h1v1h-1zM93,491h1v1h-1zM94,491h1v1h-1zM95,491h1v1h-1zM96,491h1v1h-1zM97,491h1v1h-1zM98,491h1v1h-1zM100,491h1v1h-1zM101,491h1v1h-1zM102,491h1v1h-1zM103,491h1v1h-1zM90,492h1v1h-1zM91,492h1v1h-1zM92,492h1v1h-1zM93,492h1v1h-1zM94,492h1v1h-1zM95,492h1v1h-1zM96,492h1v1h-1zM97,492h1v1h-1zM98,492h1v1h-1zM99,492h1v1h-1zM100,492h1v1h-1zM101,492h1v1h-1zM102,492h1v1h-1zM103,492h1v1h-1zM80,493h1v1h-1zM86,493h1v1h-1zM90,493h1v1h-1zM91,493h1v1h-1zM92,493h1v1h-1zM93,493h1v1h-1zM94,493h1v1h-1zM95,493h1v1h-1zM96,493h1v1h-1zM97,493h1v1h-1zM98,493h1v1h-1zM99,493h1v1h-1zM100,493h1v1h-1zM102,493h1v1h-1zM89,494h1v1h-1zM92,494h1v1h-1zM94,494h1v1h-1zM95,494h1v1h-1zM96,494h1v1h-1zM97,494h1v1h-1zM89,495h1v1h-1zM90,495h1v1h-1zM93,495h1v1h-1zM94,495h1v1h-1zM96,495h1v1h-1zM99,495h1v1h-1zM105,495h1v1h-1z" style="fill:#000;fill-opacity:1.0;stroke:none" filter="url(#bl)"/>
<path d="M85.8,440.1V534.8M59,502.5H158.2" stroke-width="1.1"/>
<path d="M56.4,534.8H59M59.0,534.8V537.4M57.6,527.7H59M66.5,534.8V536.2M57.6,523.5H59M70.8,534.8V536.2M57.6,520.5H59M73.9,534.8V536.2M57.6,518.3H59M76.3,534.8V536.2M57.6,516.4H59M78.3,534.8V536.2M57.6,514.8H59M80.0,534.8V536.2M57.6,513.4H59M81.4,534.8V536.2M57.6,512.2H59M82.7,534.8V536.2M56.4,511.1H59M83.8,534.8V537.4M57.6,504.0H59M91.3,534.8V536.2M57.6,499.8H59M95.6,534.8V536.2M57.6,496.9H59M98.7,534.8V536.2M57.6,494.6H59M101.1,534.8V536.2M57.6,492.7H59M103.1,534.8V536.2M57.6,491.1H59M104.8,534.8V536.2M57.6,489.7H59M106.2,534.8V536.2M57.6,488.5H59M107.5,534.8V536.2M56.4,487.4H59M108.6,534.8V537.4M57.6,480.3H59M116.1,534.8V536.2M57.6,476.2H59M120.4,534.8V536.2M57.6,473.2H59M123.5,534.8V536.2M57.6,470.9H59M125.9,534.8V536.2M57.6,469.0H59M127.9,534.8V536.2M57.6,467.4H59M129.6,534.8V536.2M57.6,466.1H59M131.0,534.8V536.2M57.6,464.9H59M132.3,534.8V536.2M56.4,463.8H59M133.4,534.8V537.4M57.6,456.6H59M140.9,534.8V536.2M57.6,452.5H59M145.2,534.8V536.2M57.6,449.5H59M148.3,534.8V536.2M57.6,447.2H59M150.7,534.8V536.2M57.6,445.4H59M152.7,534.8V536.2M57.6,443.8H59M154.4,534.8V536.2M57.6,442.4H59M155.8,534.8V536.2M57.6,441.2H59M157.1,534.8V536.2M56.4,440.1H59M158.2,534.8V537.4" stroke-width="0.7"/>
<text transform="translate(50.6,440.3) rotate(-32)" x="0" y="1.8" font-size="5.6" text-anchor="middle" font-weight="bold" style="stroke-width:0.25px">10<tspan font-size="3.8" dy="-2">4</tspan></text>
<text transform="translate(50.6,464.0) rotate(-32)" x="0" y="1.8" font-size="5.6" text-anchor="middle" font-weight="bold" style="stroke-width:0.25px">10<tspan font-size="3.8" dy="-2">3</tspan></text>
<text transform="translate(50.6,487.6) rotate(-32)" x="0" y="1.8" font-size="5.6" text-anchor="middle" font-weight="bold" style="stroke-width:0.25px">10<tspan font-size="3.8" dy="-2">2</tspan></text>
<text transform="translate(50.6,511.3) rotate(-32)" x="0" y="1.8" font-size="5.6" text-anchor="middle" font-weight="bold" style="stroke-width:0.25px">10<tspan font-size="3.8" dy="-2">1</tspan></text>
<text transform="translate(50.6,535.0) rotate(-32)" x="0" y="1.8" font-size="5.6" text-anchor="middle" font-weight="bold" style="stroke-width:0.25px">10<tspan font-size="3.8" dy="-2">0</tspan></text>
<text x="58.2" y="543.1" font-size="5.6" text-anchor="middle" font-weight="bold" style="stroke-width:0.25px">10<tspan font-size="3.8" dy="-2">0</tspan></text>
<text x="83.1" y="543.1" font-size="5.6" text-anchor="middle" font-weight="bold" style="stroke-width:0.25px">10<tspan font-size="3.8" dy="-2">1</tspan></text>
<text x="108.0" y="543.1" font-size="5.6" text-anchor="middle" font-weight="bold" style="stroke-width:0.25px">10<tspan font-size="3.8" dy="-2">2</tspan></text>
<text x="132.9" y="543.1" font-size="5.6" text-anchor="middle" font-weight="bold" style="stroke-width:0.25px">10<tspan font-size="3.8" dy="-2">3</tspan></text>
<text x="157.8" y="543.1" font-size="5.6" text-anchor="middle" font-weight="bold" style="stroke-width:0.25px">10<tspan font-size="3.8" dy="-2">4</tspan></text>
<text x="111.9" y="548.6" font-size="6" text-anchor="middle" font-weight="bold" style="stroke-width:0.2px">FL1-H</text>
<text transform="translate(44,478.6) rotate(-90) scale(1,0.85)" font-size="6" text-anchor="middle" font-weight="bold" style="stroke-width:0.2px">FL2-H</text>
<text x="61.6" y="451.70000000000005" font-size="11" font-weight="bold" style="stroke-width:0.2px">12.1</text>
<text x="154.6" y="451.70000000000005" font-size="11" text-anchor="end" font-weight="bold" style="stroke-width:0.2px">85.9</text>
<text x="61.6" y="527.8" font-size="11" font-weight="bold" style="stroke-width:0.2px">1.0</text>
<text x="154.6" y="527.8" font-size="11" text-anchor="end" font-weight="bold" style="stroke-width:0.2px">1.0</text>
<text x="51.8" y="423.4" font-size="15">CD62L</text>
<path d="M103.8,419.5H156.3" stroke-width="2"/>
<text x="50.9" y="565.8" font-size="15">CCR7</text>
<path d="M103.6,563.3H155.6" stroke-width="2"/>
<text transform="translate(185.1,20.1) scale(1.04,1.1)" font-size="26" style="stroke-width:0.9px">C</text>
<path d="M242.7,24.9H249.3V146.9H242.7M242.7,48.6H249.3M242.7,73.1H249.3M242.7,98.6H249.3M242.7,122.9H249.3" stroke-width="2"/>
<text x="238.9" y="31.3" font-size="15" text-anchor="end">100</text>
<text x="238.9" y="56.2" font-size="15" text-anchor="end">80</text>
<text x="238.9" y="80.1" font-size="15" text-anchor="end">60</text>
<text x="238.9" y="104.8" font-size="15" text-anchor="end">40</text>
<text x="238.9" y="129.3" font-size="15" text-anchor="end">20</text>
<text x="236.2" y="153.4" font-size="15" text-anchor="end">0</text>
<path d="M253.6,158.8V154.4H451.2V158.8M303.0,154.4V158.8M352.4,154.4V158.8M401.8,154.4V158.8" stroke-width="2"/>
<path d="M243.3,167.1H249.1V289.4H243.3M243.3,191.5H249.1M243.3,215.9H249.1M243.3,241.0H249.1M243.3,265.5H249.1" stroke-width="2"/>
<text x="238.9" y="174.8" font-size="15" text-anchor="end">100</text>
<text x="238.9" y="199.2" font-size="15" text-anchor="end">80</text>
<text x="238.9" y="222.9" font-size="15" text-anchor="end">60</text>
<text x="238.9" y="249.2" font-size="15" text-anchor="end">40</text>
<text x="238.9" y="272.2" font-size="15" text-anchor="end">20</text>
<text x="236.3" y="296.2" font-size="15" text-anchor="end">0</text>
<path d="M253.6,296V291.9H451.2V296M303.0,291.9V296M352.4,291.9V296M401.8,291.9V296" stroke-width="2"/>
<text x="252.4" y="311.2" font-size="15" text-anchor="middle">0</text>
<text x="301.8" y="311.2" font-size="15" text-anchor="middle">5</text>
<text x="351.2" y="311.2" font-size="15" text-anchor="middle">10</text>
<text x="400.6" y="311.2" font-size="15" text-anchor="middle">15</text>
<text x="450.0" y="311.2" font-size="15" text-anchor="middle">20</text>
<text x="285.3" y="332.8" font-size="17">Days post infection</text>
<text transform="translate(199.3,240.2) rotate(-90)" font-size="17.3">Proportion of cells (%)</text>
<path d="M262.4,147L272.5,145.8L282.6,144.1L293.3,143.2L303.2,142.2L314,143L324,142.4L333.4,135.6L343.7,136L353.7,133.8L375.2,137.3L403,129.2L437.1,133.3" stroke-width="2" fill="none"/>
<path d="M293.3,143.2V138.6M289.40000000000003,138.6H297.2M303.2,142.2V137.1M299.3,137.1H307.09999999999997M343.7,136V146.7M339.8,146.7H347.59999999999997M353.7,133.8V146M349.8,146H357.59999999999997M375.2,137.3V132.5M371.3,132.5H379.09999999999997M403,129.2V142.7M399.1,142.7H406.9M437.1,133.3V123.3M433.20000000000005,123.3H441.0" stroke-width="2"/>
<circle cx="262.4" cy="147" r="3.4" fill="#fff" stroke="#000" stroke-width="2"/>
<circle cx="272.5" cy="145.8" r="3.4" fill="#fff" stroke="#000" stroke-width="2"/>
<circle cx="282.6" cy="144.1" r="3.4" fill="#fff" stroke="#000" stroke-width="2"/>
<circle cx="293.3" cy="143.2" r="3.4" fill="#fff" stroke="#000" stroke-width="2"/>
<circle cx="303.2" cy="142.2" r="3.4" fill="#fff" stroke="#000" stroke-width="2"/>
<circle cx="314" cy="143" r="3.4" fill="#fff" stroke="#000" stroke-width="2"/>
<circle cx="324" cy="142.4" r="3.4" fill="#fff" stroke="#000" stroke-width="2"/>
<circle cx="333.4" cy="135.6" r="3.4" fill="#fff" stroke="#000" stroke-width="2"/>
<circle cx="343.7" cy="136" r="3.4" fill="#fff" stroke="#000" stroke-width="2"/>
<circle cx="353.7" cy="133.8" r="3.4" fill="#fff" stroke="#000" stroke-width="2"/>
<circle cx="375.2" cy="137.3" r="3.4" fill="#fff" stroke="#000" stroke-width="2"/>
<circle cx="403" cy="129.2" r="3.4" fill="#fff" stroke="#000" stroke-width="2"/>
<circle cx="437.1" cy="133.3" r="3.4" fill="#fff" stroke="#000" stroke-width="2"/>
<path d="M262,141L272.2,137.2L282.2,127.9L292.6,112.2L302.5,117.6L312.3,123.2L322.3,104.8L332.2,114.6L342.1,101.8L352.3,113.6L372,109.8L401.3,105L436.3,111" stroke-width="2" fill="none"/>
<path d="M262,141V138.5M258.1,138.5H265.9M272.2,137.2V134.5M268.3,134.5H276.09999999999997M282.2,127.9V122.5M278.3,122.5H286.09999999999997M292.6,112.2V102.5M288.70000000000005,102.5H296.5M302.5,117.6V109.2M298.6,109.2H306.4M312.3,123.2V129.2M308.40000000000003,129.2H316.2M322.3,104.8V84M318.40000000000003,84H326.2M332.2,114.6V121.5M328.3,121.5H336.09999999999997M342.1,101.8V88.8M338.20000000000005,88.8H346.0M352.3,113.6V102.8M348.40000000000003,102.8H356.2M372,109.8V101M368.1,101H375.9M401.3,105V92.9M397.40000000000003,92.9H405.2M436.3,111V101M432.40000000000003,101H440.2" stroke-width="2"/>
<circle cx="262" cy="141" r="4.5" fill="#000" stroke="none"/>
<circle cx="272.2" cy="137.2" r="4.5" fill="#000" stroke="none"/>
<circle cx="282.2" cy="127.9" r="4.5" fill="#000" stroke="none"/>
<circle cx="292.6" cy="112.2" r="4.5" fill="#000" stroke="none"/>
<circle cx="302.5" cy="117.6" r="4.5" fill="#000" stroke="none"/>
<circle cx="312.3" cy="123.2" r="4.5" fill="#000" stroke="none"/>
<circle cx="322.3" cy="104.8" r="4.5" fill="#000" stroke="none"/>
<circle cx="332.2" cy="114.6" r="4.5" fill="#000" stroke="none"/>
<circle cx="342.1" cy="101.8" r="4.5" fill="#000" stroke="none"/>
<circle cx="352.3" cy="113.6" r="4.5" fill="#000" stroke="none"/>
<circle cx="372" cy="109.8" r="4.5" fill="#000" stroke="none"/>
<circle cx="401.3" cy="105" r="4.5" fill="#000" stroke="none"/>
<circle cx="436.3" cy="111" r="4.5" fill="#000" stroke="none"/>
<path d="M262.4,267.5L273.3,250.9L283.1,247.7L293,245.6L302.7,239L314,251.4L323.9,238.4L334,228.6L343.7,232.5L353.7,227.9L373.3,240.5L403.5,221.7L436.3,231.4" stroke-width="2" fill="none"/>
<path d="M273.3,250.9V234.4M269.40000000000003,234.4H277.2M283.1,247.7V231.5M279.20000000000005,231.5H287.0M302.7,239V224M298.8,224H306.59999999999997M323.9,238.4V226.4M320.0,226.4H327.79999999999995M334,228.6V217.3M330.1,217.3H337.9M343.7,232.5V223.3M339.8,223.3H347.59999999999997M353.7,227.9V212.5M349.8,212.5H357.59999999999997M373.3,240.5V227.9M369.40000000000003,227.9H377.2M403.5,221.7V199.6M399.6,199.6H407.4M436.3,231.4V212.5M432.40000000000003,212.5H440.2" stroke-width="2"/>
<circle cx="262.4" cy="267.5" r="3.4" fill="#fff" stroke="#000" stroke-width="2"/>
<circle cx="273.3" cy="250.9" r="3.4" fill="#fff" stroke="#000" stroke-width="2"/>
<circle cx="283.1" cy="247.7" r="3.4" fill="#fff" stroke="#000" stroke-width="2"/>
<circle cx="293" cy="245.6" r="3.4" fill="#fff" stroke="#000" stroke-width="2"/>
<circle cx="302.7" cy="239" r="3.4" fill="#fff" stroke="#000" stroke-width="2"/>
<circle cx="314" cy="251.4" r="3.4" fill="#fff" stroke="#000" stroke-width="2"/>
<circle cx="323.9" cy="238.4" r="3.4" fill="#fff" stroke="#000" stroke-width="2"/>
<circle cx="334" cy="228.6" r="3.4" fill="#fff" stroke="#000" stroke-width="2"/>
<circle cx="343.7" cy="232.5" r="3.4" fill="#fff" stroke="#000" stroke-width="2"/>
<circle cx="353.7" cy="227.9" r="3.4" fill="#fff" stroke="#000" stroke-width="2"/>
<circle cx="373.3" cy="240.5" r="3.4" fill="#fff" stroke="#000" stroke-width="2"/>
<circle cx="403.5" cy="221.7" r="3.4" fill="#fff" stroke="#000" stroke-width="2"/>
<circle cx="436.3" cy="231.4" r="3.4" fill="#fff" stroke="#000" stroke-width="2"/>
<path d="M262.1,271.9L271.6,262.4L282.2,251.7L291.8,239L302.7,242.3L311.4,236L321.6,253.6L331.4,242.3L342,250.5L352.3,242.2L372.5,240.5L402.1,238.7L436.3,240.5" stroke-width="2" fill="none"/>
<path d="M262.1,271.9V265M258.20000000000005,265H266.0M271.6,262.4V254.8M267.70000000000005,254.8H275.5M291.8,239V231M287.90000000000003,231H295.7M311.4,236V226.5M307.5,226.5H315.29999999999995M321.6,253.6V246.5M317.70000000000005,246.5H325.5M331.4,242.3V235.8M327.5,235.8H335.29999999999995M342,250.5V245M338.1,245H345.9M352.3,242.2V235.2M348.40000000000003,235.2H356.2" stroke-width="2"/>
<circle cx="262.1" cy="271.9" r="4.5" fill="#000" stroke="none"/>
<circle cx="271.6" cy="262.4" r="4.5" fill="#000" stroke="none"/>
<circle cx="282.2" cy="251.7" r="4.5" fill="#000" stroke="none"/>
<circle cx="291.8" cy="239" r="4.5" fill="#000" stroke="none"/>
<circle cx="302.7" cy="242.3" r="4.5" fill="#000" stroke="none"/>
<circle cx="311.4" cy="236" r="4.5" fill="#000" stroke="none"/>
<circle cx="321.6" cy="253.6" r="4.5" fill="#000" stroke="none"/>
<circle cx="331.4" cy="242.3" r="4.5" fill="#000" stroke="none"/>
<circle cx="342" cy="250.5" r="4.5" fill="#000" stroke="none"/>
<circle cx="352.3" cy="242.2" r="4.5" fill="#000" stroke="none"/>
<circle cx="372.5" cy="240.5" r="4.5" fill="#000" stroke="none"/>
<circle cx="402.1" cy="238.7" r="4.5" fill="#000" stroke="none"/>
<circle cx="436.3" cy="240.5" r="4.5" fill="#000" stroke="none"/>
<circle cx="264.7" cy="37.3" r="4.7" fill="#000"/>
<circle cx="264.6" cy="56" r="3.2" fill="#fff" stroke="#000" stroke-width="2"/>
<text x="278.6" y="42.2" font-size="13">CD3<tspan font-size="8" dy="-4.5">+</tspan><tspan dy="4.5"> T-cells</tspan></text>
<text x="278.6" y="61.3" font-size="13">CD3<tspan font-size="8" dy="-4.5">+</tspan><tspan dy="4.5">IL-6R</tspan><tspan font-size="8" dy="-4.5">+</tspan></text>
<circle cx="264.3" cy="180.2" r="4.7" fill="#000"/>
<circle cx="264.6" cy="198.8" r="3.2" fill="#fff" stroke="#000" stroke-width="2"/>
<text x="279.4" y="185" font-size="13">CD14<tspan font-size="8" dy="-4.5">+</tspan><tspan dy="4.5"> monocytic cells</tspan></text>
<text x="281.8" y="203.4" font-size="13">CD14<tspan font-size="8" dy="-4.5">+</tspan><tspan dy="4.5">IL-6R</tspan><tspan font-size="8" dy="-4.5">+</tspan></text>
<text transform="translate(185.1,373.9) scale(1.03,1.12)" font-size="25.5" style="stroke-width:0.9px">D</text>
<path d="M242.3,401.2H249.3V524.6H242.3M242.3,425.8H249.3M242.3,450.5H249.3M242.3,475.2H249.3M242.3,500.6H249.3" stroke-width="2"/>
<text x="238.3" y="406.5" font-size="15" text-anchor="end">50</text>
<text x="238.3" y="430.8" font-size="15" text-anchor="end">40</text>
<text x="238.3" y="455.3" font-size="15" text-anchor="end">30</text>
<text x="238.3" y="479.8" font-size="15" text-anchor="end">20</text>
<text x="238.3" y="505.3" font-size="15" text-anchor="end">10</text>
<text x="236.3" y="529.3" font-size="15" text-anchor="end">0</text>
<path d="M250.5,534.4V529.8H456.4V534.4M301.3,529.8V534.4M353.6,529.8V534.4M405.5,529.8V534.4" stroke-width="2"/>
<text x="248.6" y="548.2" font-size="15" text-anchor="middle">0</text>
<text x="300.3" y="548.2" font-size="15" text-anchor="middle">5</text>
<text x="353.1" y="548.2" font-size="15" text-anchor="middle">10</text>
<text x="404.6" y="548.2" font-size="15" text-anchor="middle">15</text>
<text x="454.8" y="548.2" font-size="15" text-anchor="middle">20</text>
<text x="331" y="568.5" font-size="17">Days</text>
<text transform="translate(201,552.4) rotate(-90)" font-size="17.4">Proportion of cells (%)</text>
<path d="M259.7,523.9L270.2,521.8L280.7,498.1L291.2,520.4L300.9,522L311.4,512L321.9,509.4L332.3,512.6L342.9,510.4L353.7,516L373.9,515.2L405.4,504.4L435.5,509" stroke-width="2" fill="none"/>
<path d="M280.7,498.1V488.4M278.0,488.4H283.4M321.9,509.4V502.9M319.2,502.9H324.59999999999997M332.3,512.6V505.5M329.6,505.5H335.0M405.4,504.4V497.7M402.7,497.7H408.09999999999997M435.5,509V503.6M432.8,503.6H438.2" stroke-width="1.7"/>
<circle cx="259.7" cy="523.9" r="3.1999999999999997" fill="#fff" stroke="#000" stroke-width="2"/>
<circle cx="270.2" cy="521.8" r="3.1999999999999997" fill="#fff" stroke="#000" stroke-width="2"/>
<circle cx="280.7" cy="498.1" r="3.1999999999999997" fill="#fff" stroke="#000" stroke-width="2"/>
<circle cx="291.2" cy="520.4" r="3.1999999999999997" fill="#fff" stroke="#000" stroke-width="2"/>
<circle cx="300.9" cy="522" r="3.1999999999999997" fill="#fff" stroke="#000" stroke-width="2"/>
<circle cx="311.4" cy="512" r="3.1999999999999997" fill="#fff" stroke="#000" stroke-width="2"/>
<circle cx="321.9" cy="509.4" r="3.1999999999999997" fill="#fff" stroke="#000" stroke-width="2"/>
<circle cx="332.3" cy="512.6" r="3.1999999999999997" fill="#fff" stroke="#000" stroke-width="2"/>
<circle cx="342.9" cy="510.4" r="3.1999999999999997" fill="#fff" stroke="#000" stroke-width="2"/>
<circle cx="353.7" cy="516" r="3.1999999999999997" fill="#fff" stroke="#000" stroke-width="2"/>
<circle cx="373.9" cy="515.2" r="3.1999999999999997" fill="#fff" stroke="#000" stroke-width="2"/>
<circle cx="405.4" cy="504.4" r="3.1999999999999997" fill="#fff" stroke="#000" stroke-width="2"/>
<circle cx="435.5" cy="509" r="3.1999999999999997" fill="#fff" stroke="#000" stroke-width="2"/>
<path d="M261,481.9L271.5,479.2L282,463.5L292.5,445.6L302.2,452.2L312.7,453L323.2,426.7L333.4,450.5L344,435.2L354.8,456L374.4,441.2L406.2,437.1L437.2,448.7" stroke-width="2" fill="none"/>
<path d="M261,481.9V476M258.3,476H263.7M282,463.5V446.4M279.3,446.4H284.7M292.5,445.6V431.5M289.8,431.5H295.2M302.2,452.2V437.8M299.5,437.8H304.9M312.7,453V442.5M310.0,442.5H315.4M323.2,426.7V409.7M320.5,409.7H325.9M333.4,450.5V428.8M330.7,428.8H336.09999999999997M344,435.2V419.6M341.3,419.6H346.7M354.8,456V437.9M352.1,437.9H357.5M374.4,441.2V425M371.7,425H377.09999999999997M406.2,437.1V413.7M403.5,413.7H408.9M437.2,448.7V429M434.5,429H439.9" stroke-width="1.7"/>
<circle cx="261" cy="481.9" r="4.4" fill="#000" stroke="none"/>
<circle cx="271.5" cy="479.2" r="4.4" fill="#000" stroke="none"/>
<circle cx="282" cy="463.5" r="4.4" fill="#000" stroke="none"/>
<circle cx="292.5" cy="445.6" r="4.4" fill="#000" stroke="none"/>
<circle cx="302.2" cy="452.2" r="4.4" fill="#000" stroke="none"/>
<circle cx="312.7" cy="453" r="4.4" fill="#000" stroke="none"/>
<circle cx="323.2" cy="426.7" r="4.4" fill="#000" stroke="none"/>
<circle cx="333.4" cy="450.5" r="4.4" fill="#000" stroke="none"/>
<circle cx="344" cy="435.2" r="4.4" fill="#000" stroke="none"/>
<circle cx="354.8" cy="456" r="4.4" fill="#000" stroke="none"/>
<circle cx="374.4" cy="441.2" r="4.4" fill="#000" stroke="none"/>
<circle cx="406.2" cy="437.1" r="4.4" fill="#000" stroke="none"/>
<circle cx="437.2" cy="448.7" r="4.4" fill="#000" stroke="none"/>
<circle cx="453" cy="470.6" r="4.4" fill="#000"/>
<circle cx="452.8" cy="487.4" r="3.3" fill="#fff" stroke="#000" stroke-width="2.1"/>
<text transform="translate(457.3,473.8) scale(1.09,1)" font-size="12.5">CD3<tspan font-size="7.5" dy="-4">+</tspan><tspan dy="4">CD4</tspan><tspan font-size="7.5" dy="-4">+</tspan></text>
<text transform="translate(457.3,490.8) scale(1.09,1)" font-size="12.5">CD3<tspan font-size="7.5" dy="-4">+</tspan><tspan dy="4">CD8</tspan><tspan font-size="7.5" dy="-4">+</tspan></text>
</svg></body></html>
